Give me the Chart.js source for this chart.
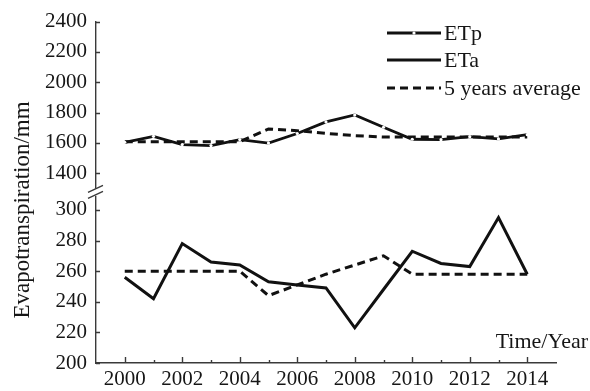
<!DOCTYPE html>
<html>
<head>
<meta charset="utf-8">
<script src="https://cdn.jsdelivr.net/npm/chart.js@4/dist/chart.umd.min.js"></script>
<style>
  html, body { margin: 0; padding: 0; background: #fff; }
  #wrap { position: relative; width: 590px; height: 391px; }
</style>
</head>
<body>
<div id="wrap"><canvas id="chart"></canvas></div>
<script>
// Annual evapotranspiration (mm), 2000-2014
const years = [2000, 2001, 2002, 2003, 2004, 2005, 2006, 2007, 2008, 2009, 2010, 2011, 2012, 2013, 2014];
const etp = [1604, 1643, 1589, 1582, 1622, 1599, 1662, 1738, 1784, 1703, 1624, 1621, 1641, 1626, 1654];
const etpAverage = [1608, 1608, 1608, 1608, 1608, 1692, 1680, 1663, 1648, 1638, 1638, 1638, 1638, 1638, 1638];
const eta = [256, 242, 278, 266, 264, 253, 251, 249, 223, 248, 273, 265, 263, 295, 258];
const etaAverage = [260, 260, 260, 260, 260, 244, 251, 258, 264, 270, 258, 258, 258, 258, 258];

// Axis ticks
const upperTicks = [1400, 1600, 1800, 2000, 2200, 2400];
const lowerTicks = [200, 220, 240, 260, 280, 300];
const labelledYears = [2000, 2002, 2004, 2006, 2008, 2010, 2012, 2014];

const seriesNames = ['ETp', 'ETa', '5 years average'];
const axisTitleY = 'Evapotranspiration/mm';
const axisTitleX = 'Time/Year';

const INK = '#111';
const AXIS = '#3a3a3a';
const TEXT = '#161616';
const FONT = '"Liberation Serif", "Times New Roman", serif';

const points = vals => vals.map((v, i) => ({ x: years[i], y: v }));

// Inward tick marks, axis break, axis titles and the legend
const decorations = {
  id: 'decorations',
  afterDraw(chart) {
    const ctx = chart.ctx;
    const x = chart.scales.x, yt = chart.scales.yTop, yb = chart.scales.yBottom;
    const left = chart.chartArea.left, bottom = chart.chartArea.bottom;
    ctx.save();
    ctx.strokeStyle = AXIS;
    ctx.lineWidth = 1.4;
    ctx.beginPath();
    years.forEach(yr => {
      const px = Math.round(x.getPixelForValue(yr)) + 0.5;
      const len = labelledYears.includes(yr) ? 6 : 3;
      ctx.moveTo(px, bottom);
      ctx.lineTo(px, bottom - len);
    });
    upperTicks.forEach(v => {
      const py = Math.round(yt.getPixelForValue(v)) + 0.5;
      ctx.moveTo(left, py); ctx.lineTo(left + 4, py);
    });
    lowerTicks.forEach(v => {
      const py = Math.round(yb.getPixelForValue(v)) + 0.5;
      ctx.moveTo(left, py); ctx.lineTo(left + 4, py);
    });
    ctx.stroke();

    // axis break
    const mid = yt.bottom;
    ctx.fillStyle = '#fff';
    ctx.fillRect(left - 3, mid - 3.5, 6, 7);
    ctx.beginPath();
    ctx.moveTo(left - 8, mid);     ctx.lineTo(left + 7, mid - 7);
    ctx.moveTo(left - 8, mid + 6); ctx.lineTo(left + 7, mid - 1);
    ctx.stroke();

    // axis titles
    ctx.fillStyle = TEXT;
    ctx.font = '23px ' + FONT;
    ctx.save();
    ctx.translate(23, 210);
    ctx.rotate(-Math.PI / 2);
    ctx.textAlign = 'center';
    ctx.textBaseline = 'middle';
    ctx.fillText(axisTitleY, 0, 0);
    ctx.restore();
    ctx.font = '22px ' + FONT;
    ctx.textAlign = 'right';
    ctx.textBaseline = 'alphabetic';
    ctx.fillText(axisTitleX, 588, 348);

    // legend
    const rows = [33, 60, 88];
    const ds = chart.data.datasets;
    ctx.font = '22px ' + FONT;
    ctx.textAlign = 'left';
    ctx.textBaseline = 'middle';
    rows.forEach((ry, i) => {
      const d = ds[i];
      ctx.strokeStyle = d.borderColor;
      ctx.lineWidth = d.borderWidth;
      ctx.setLineDash(d.borderDash || []);
      ctx.beginPath();
      ctx.moveTo(387, ry); ctx.lineTo(441, ry);
      ctx.stroke();
      ctx.setLineDash([]);
      if (d.pointRadius > 0) {
        ctx.fillStyle = d.pointBackgroundColor;
        ctx.beginPath();
        ctx.arc(414, ry, d.pointRadius, 0, Math.PI * 2);
        ctx.fill();
      }
      ctx.fillStyle = TEXT;
      ctx.fillText(seriesNames[i], 444, ry + 1);
    });
    ctx.restore();
  }
};

const lineStyle = { borderColor: INK, borderWidth: 2.8, tension: 0, fill: false, pointRadius: 0 };
const tickFont = { family: FONT, size: 21 };

new Chart(document.getElementById('chart'), {
  type: 'line',
  data: {
    datasets: [
      { ...lineStyle, label: seriesNames[0], data: points(etp), yAxisID: 'yTop',
        pointRadius: 1.6, pointBackgroundColor: '#fff', pointBorderWidth: 0 },
      { ...lineStyle, label: seriesNames[1], data: points(eta), yAxisID: 'yBottom', borderWidth: 3 },
      { ...lineStyle, label: seriesNames[2], data: points(etpAverage), yAxisID: 'yTop', borderDash: [8, 5], borderWidth: 3 },
      { ...lineStyle, label: seriesNames[2], data: points(etaAverage), yAxisID: 'yBottom', borderDash: [8, 5], borderWidth: 3 }
    ]
  },
  options: {
    responsive: true,
    maintainAspectRatio: false,
    animation: false,
    layout: { padding: { left: 0, right: 34, top: 21, bottom: 0 } },
    plugins: { legend: { display: false }, tooltip: { enabled: false } },
    scales: {
      x: {
        type: 'linear', min: 1999, max: 2015,
        afterBuildTicks: s => { s.ticks = labelledYears.map(v => ({ value: v })); },
        afterFit: s => { s.height = 28; },
        grid: { display: false, drawTicks: false },
        border: { display: true, color: AXIS, width: 1.4 },
        ticks: { autoSkip: false, maxRotation: 0, padding: 4, color: TEXT, font: tickFont, callback: v => String(v) }
      },
      yTop: {
        type: 'linear', position: 'left', stack: 'y', stackWeight: 1, weight: 1,
        min: 1274, max: 2400,
        afterBuildTicks: s => { s.ticks = upperTicks.map(v => ({ value: v })); },
        afterFit: s => { s.width = 96; },
        grid: { display: false, drawTicks: false },
        border: { display: true, color: AXIS, width: 1.4 },
        ticks: { autoSkip: false, padding: 9, color: TEXT, font: tickFont, callback: v => String(v) }
      },
      yBottom: {
        type: 'linear', position: 'left', stack: 'y', stackWeight: 1, weight: 0,
        min: 200, max: 311.5,
        afterBuildTicks: s => { s.ticks = lowerTicks.map(v => ({ value: v })); },
        afterFit: s => { s.width = 96; },
        grid: { display: false, drawTicks: false },
        border: { display: true, color: AXIS, width: 1.4 },
        ticks: { autoSkip: false, padding: 9, color: TEXT, font: tickFont, callback: v => String(v) }
      }
    }
  },
  plugins: [decorations]
});
</script>
</body>
</html>
